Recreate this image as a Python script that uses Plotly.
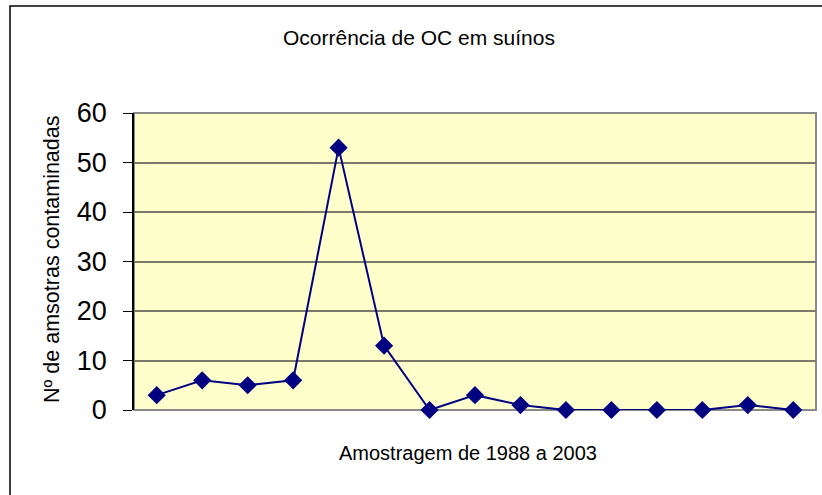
import plotly.graph_objects as go

samples = [str(i) for i in range(1, 16)]
values = [3, 6, 5, 6, 53, 13, 0, 3, 1, 0, 0, 0, 0, 1, 0]
y_ticks = [0, 10, 20, 30, 40, 50, 60]

title_text = "Ocorrência de OC em suínos"
x_title = "Amostragem de 1988 a 2003"
y_title = "Nº de amsotras contaminadas"

FONT = "Liberation Sans, Arial, sans-serif"

L, T, W, H = 134, 113, 682, 297
FIG_W, FIG_H = 822, 495


def px(x):
    return (x - L) / W


def py(y):
    return (T + H - y) / H


fig = go.Figure()
fig.add_trace(go.Scatter(
    x=samples, y=values, mode="lines+markers",
    line=dict(color="#000080", width=2),
    marker=dict(symbol="diamond", size=14, color="#000080"),
    cliponaxis=False, showlegend=False,
))

fig.update_layout(
    width=FIG_W, height=FIG_H,
    margin=dict(l=L, r=FIG_W - L - W, t=T, b=FIG_H - T - H),
    paper_bgcolor="white",
    plot_bgcolor="#FFFFCC",
    font=dict(family=FONT, color="black"),
    xaxis=dict(
        type="category", range=[-0.5, 14.5],
        showticklabels=False, ticks="", showgrid=False, zeroline=False,
        showline=False,
    ),
    yaxis=dict(
        range=[0, 60], tickvals=y_ticks, ticktext=[str(v) for v in y_ticks],
        ticks="outside", ticklen=9, tickcolor="black", tickwidth=1,
        tickfont=dict(size=27, family=FONT),
        ticklabelstandoff=11,
        showgrid=True, gridcolor="#7a7a6a", gridwidth=1.5,
        zeroline=False, showline=True, linecolor="black", linewidth=1.5,
    ),
    shapes=[
        dict(type="rect", xref="paper", yref="paper", x0=0, x1=1, y0=0, y1=1,
             line=dict(color="#8a8a8a", width=2), layer="below"),
        dict(type="rect", xref="paper", yref="paper",
             x0=px(10), x1=px(830), y0=py(500), y1=py(6),
             line=dict(color="black", width=1.5), fillcolor="rgba(0,0,0,0)"),
    ],
    annotations=[
        dict(text=title_text, xref="paper", yref="paper",
             x=px(419), y=py(37), yanchor="middle",
             xanchor="center", showarrow=False, font=dict(size=21, family=FONT)),
        dict(text=x_title, xref="paper", yref="paper",
             x=px(468), y=py(453), yanchor="middle",
             xanchor="center", showarrow=False, font=dict(size=20, family=FONT)),
        dict(text=y_title, xref="paper", yref="paper", textangle=-90,
             x=px(52), y=py(259), yanchor="middle",
             xanchor="center", showarrow=False, font=dict(size=21.5, family=FONT)),
    ],
)

fig.write_html(
    "out.html",
    config={"displayModeBar": False},
    post_script="document.body.style.margin='0';document.body.style.overflow='hidden';",
)
